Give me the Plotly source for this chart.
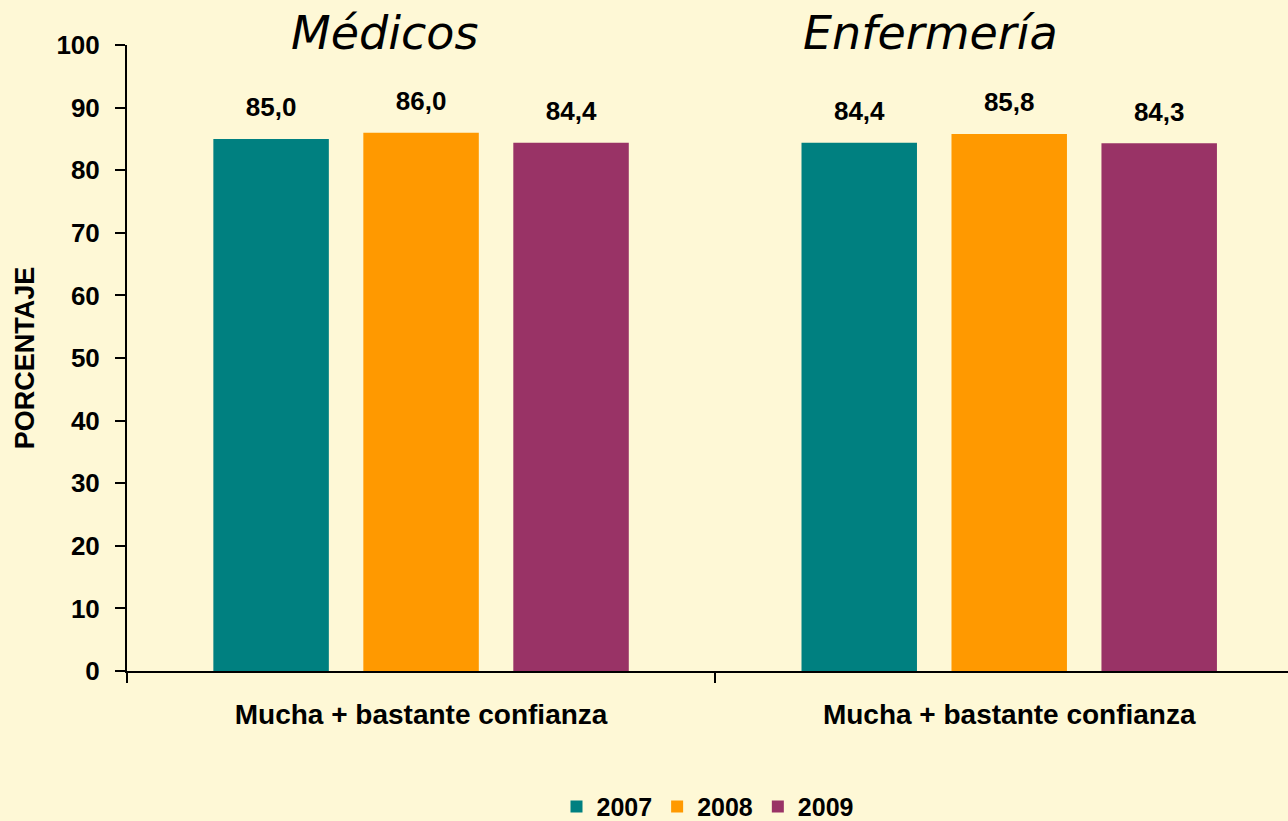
"""Confianza en médicos y enfermería, 2007-2009."""

import plotly.graph_objects as go

# data
groups = ["Médicos", "Enfermería"]
group_tick_label = "Mucha + bastante confianza"
years = ["2007", "2008", "2009"]
values_2007 = [85.0, 84.4]
values_2008 = [86.0, 85.8]
values_2009 = [84.4, 84.3]
colors = ["#008080", "#FF9900", "#993366"]

BG = "#FEF8D6"
FONT = "Liberation Sans, Arial, sans-serif"
GAP = 0.235


def fmt(v):
    # decimal comma, as in the original
    return f"{v:.1f}".replace(".", ",")


fig = go.Figure()
for year, vals, color in zip(years, [values_2007, values_2008, values_2009], colors):
    fig.add_trace(
        go.Bar(
            x=groups,
            y=vals,
            name=year,
            marker_color=color,
            marker_line_width=0,
            hoverinfo="skip",
        )
    )

# value labels: invisible grouped markers so the text sits a bit above each bar
for year, vals in zip(years, [values_2007, values_2008, values_2009]):
    fig.add_trace(
        go.Scatter(
            x=groups,
            y=vals,
            mode="markers+text",
            marker=dict(size=24, opacity=0),
            text=[fmt(v) for v in vals],
            textposition="top center",
            textfont=dict(family=FONT, size=26, color="black", weight="bold"),
            showlegend=False,
            cliponaxis=False,
            hoverinfo="skip",
        )
    )

# group titles above the plot
titles_x = [0.222, 0.6925]
for g, tx in zip(groups, titles_x):
    fig.add_annotation(
        x=tx,
        y=1,
        xref="paper",
        yref="paper",
        xanchor="center",
        text=f"<i>{g}</i>",
        showarrow=False,
        yanchor="middle",
        yshift=12,
        font=dict(family="DejaVu Sans, Verdana, sans-serif", size=46, color="black"),
    )

fig.update_layout(
    width=1288,
    height=821,
    paper_bgcolor=BG,
    plot_bgcolor=BG,
    margin=dict(l=127, r=0, t=45, b=150, autoexpand=False),
    barmode="group",
    bargap=GAP,
    bargroupgap=0.23,
    scattermode="group",
    scattergap=GAP,
    font=dict(family=FONT, size=26, color="black"),
    legend=dict(
        orientation="h",
        x=0.5,
        xanchor="center",
        y=-0.217,
        yanchor="middle",
        font=dict(family=FONT, size=25, color="black", weight="bold"),
        itemwidth=30,
        traceorder="normal",
    ),
)

fig.update_xaxes(
    range=[-0.5, 1.474],
    tickvals=groups,
    ticktext=[group_tick_label] * len(groups),
    tickson="boundaries",
    ticks="outside",
    ticklen=10,
    tickwidth=2,
    tickcolor="black",
    showline=True,
    linecolor="black",
    linewidth=2,
    showgrid=False,
    ticklabelstandoff=17,
    tickfont=dict(family=FONT, size=28, color="black", weight="bold"),
)
fig.update_yaxes(
    range=[0, 100],
    dtick=10,
    ticks="outside",
    ticklen=10,
    tickwidth=2,
    tickcolor="black",
    showline=True,
    linecolor="black",
    linewidth=2,
    showgrid=False,
    zeroline=False,
    ticklabelstandoff=10,
    tickfont=dict(family=FONT, size=26, color="black", weight="bold"),
    title=dict(
        text="PORCENTAJE",
        font=dict(family=FONT, size=27, color="black", weight="bold"),
        standoff=14,
    ),
)

fig.write_html(
    "out.html",
    config={"displayModeBar": False},
    post_script="document.body.style.margin='0';",
)
